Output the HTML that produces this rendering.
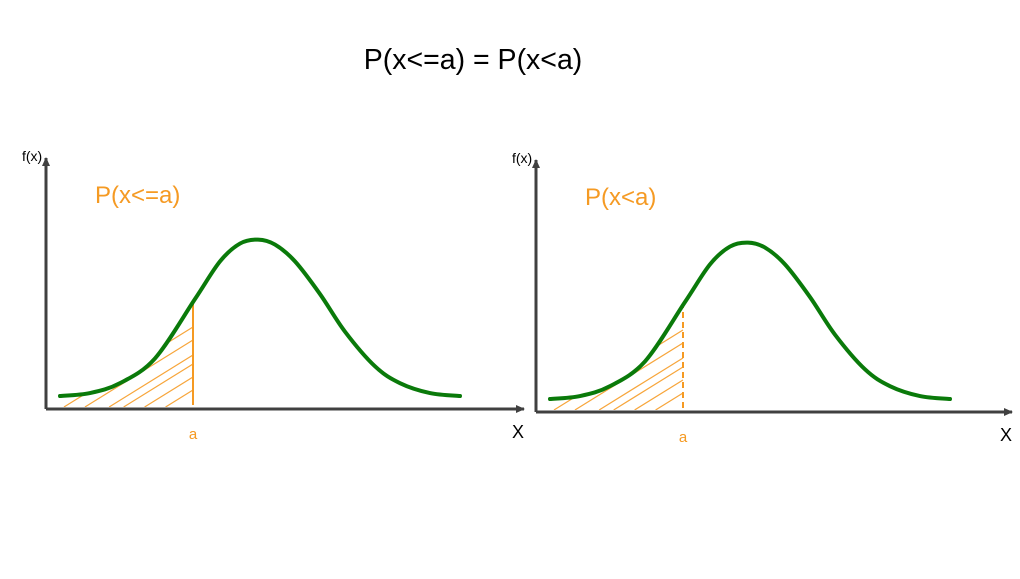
<!DOCTYPE html>
<html><head><meta charset="utf-8"><style>
body{margin:0;background:#fff;width:1020px;height:574px;overflow:hidden;font-family:"Liberation Sans",sans-serif}
text{font-family:"Liberation Sans",sans-serif}
</style></head><body>
<svg id="chart" width="1020" height="574" viewBox="0 0 1020 574">
<defs><marker id="arr" markerWidth="10" markerHeight="10" refX="8" refY="4" orient="auto" markerUnits="userSpaceOnUse"><path d="M0,0 L9,4 L0,8 z" fill="#404040"/></marker></defs>
<text x="473" y="69" font-size="28.5" text-anchor="middle" fill="#000">P(x&lt;=a) = P(x&lt;a)</text>
<g id="panels"></g>
</svg>
<script>
const curveX=[0,30,60,95,135,160,180,198,215,235,260,285,315,340,370,400];
const curveY=[2,5,15,40,100,138,156,160,155,138,105,67,32,15,5,2];
const hatchEndY=[82,69,54,45,32,19];
const panels=[{ox:46,oy:409,cx:60,label:"P(x<=a)",aX:193,dashed:false,yTop:158,xEnd:524,name:"left"},
{ox:536,oy:412,cx:550,label:"P(x<a)",aX:683,dashed:true,yTop:160,xEnd:1012,name:"right"}];
const ns="http://www.w3.org/2000/svg";
const g=document.getElementById('panels');
const defs=document.querySelector('defs');
function mk(t,a,p){const e=document.createElementNS(ns,t);for(const k in a)e.setAttribute(k,a[k]);(p||g).appendChild(e);return e;}
panels.forEach((p,pi)=>{
 const grp=mk('g',{});
 
 
 const sx=v=>p.cx+v, sy=v=>p.oy-11-v*0.99;
 const ya=mk('line',{x1:p.ox,y1:p.oy,x2:p.ox,y2:p.yTop,stroke:'#404040','stroke-width':3,'marker-end':'url(#arr)'},grp);
 
 const xa=mk('line',{x1:p.ox,y1:p.oy,x2:p.xEnd,y2:p.oy,stroke:'#404040','stroke-width':3,'marker-end':'url(#arr)'},grp);
 
 const fy=mk('text',{x:p.ox-24,y:p.yTop+3,'font-size':14,fill:'#000'},grp);fy.textContent='f(x)';
 
 const fx=mk('text',{x:p.xEnd-12,y:p.oy+29,'font-size':18,fill:'#000'},grp);fx.textContent='X';
 
 const lb=mk('text',{x:p.ox+49,y:p.yTop+45,'font-size':24,fill:'#f59a23'},grp);lb.textContent=p.label;
 
 // curve path
 const pts=curveX.map((v,i)=>[sx(v),sy(curveY[i])]);
 let d='M'+pts[0].join(',');
 for(let i=0;i<pts.length-1;i++){const p0=pts[i-1]||pts[i],p1=pts[i],p2=pts[i+1],p3=pts[i+2]||p2;
  d+=` C${p1[0]+(p2[0]-p0[0])/6},${p1[1]+(p2[1]-p0[1])/6} ${p2[0]-(p3[0]-p1[0])/6},${p2[1]-(p3[1]-p1[1])/6} ${p2[0]},${p2[1]}`;}
 const cp=mk('clipPath',{id:'clip'+pi},defs);
 mk('path',{d:d+` L${pts[pts.length-1][0]},${p.oy-2} L${pts[0][0]},${p.oy-2} Z`},cp);
 const hg=mk('g',{'clip-path':`url(#clip${pi})`},grp);
 hatchEndY.forEach((v,i)=>{
  const y1=p.oy-v, x0=p.aX-(v-2)/0.62;
  const h=mk('line',{x1:x0,y1:p.oy-2,x2:p.aX,y2:y1,stroke:'#f7a53a','stroke-width':1.2},hg);
  
 });
 // a line
 const idx=curveX.findIndex(v=>sx(v)>=p.aX);
 const t=(p.aX-sx(curveX[idx-1]))/(curveX[idx]-curveX[idx-1]);
 const ay=sy(curveY[idx-1]+(curveY[idx]-curveY[idx-1])*t);
 const al=mk('line',{x1:p.aX,y1:p.oy-4,x2:p.aX,y2:ay,stroke:'#f59a23','stroke-width':2},grp);
 if(p.dashed)al.setAttribute('stroke-dasharray','6,4');
 
 const at=mk('text',{x:p.aX,y:p.oy+30,'font-size':15,'text-anchor':'middle',fill:'#f59a23'},grp);at.textContent='a';
 
 const c=mk('path',{d:d,fill:'none',stroke:'#0a7a0a','stroke-width':4,'stroke-linecap':'round'},grp);
 
});
</script>
</body></html>
